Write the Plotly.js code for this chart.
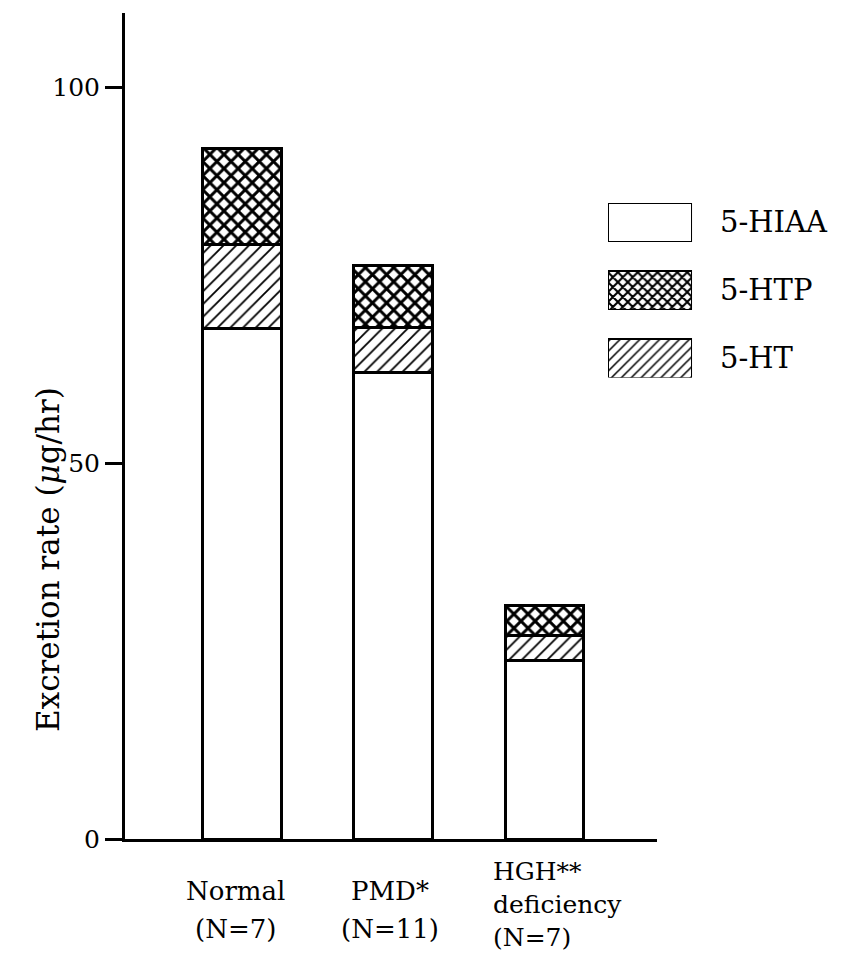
<!DOCTYPE html>
<html>
<head>
<meta charset="utf-8">
<script src="https://cdn.plot.ly/plotly-3.0.1.min.js"></script>
<style>
  html, body { margin: 0; padding: 0; background: #ffffff; }
  #chart { width: 841px; height: 968px; }
</style>
</head>
<body>
<div id="chart"></div>
<script>
// ---- data ----
const groups = ["Normal", "PMD*", "HGH** deficiency"];
const groupLabelLines = [["Normal", "(N=7)"], ["PMD*", "(N=11)"], ["HGH**", "deficiency", "(N=7)"]];
const seriesNames = ["5-HIAA", "5-HT", "5-HTP"];      // stacking order, bottom to top
const hiaa = [67.9, 62.0, 23.8];
const ht   = [11.1, 6.0, 3.3];
const htp  = [12.8, 8.3, 4.0];
const legendOrder = ["5-HIAA", "5-HTP", "5-HT"];      // legend order, top to bottom
const yTicks = [0, 50, 100];

// ---- styles ----
const FONT = "DejaVu Serif";
const patterns = {
  "5-HIAA": {shape: "", size: 9, solidity: 0.2},
  "5-HT":   {shape: "/", size: 9, solidity: 0.2},
  "5-HTP":  {shape: "x", size: 10, solidity: 0.5}
};
const legendPatterns = {
  "5-HIAA": {shape: "", size: 7, solidity: 0.2},
  "5-HT":   {shape: "/", size: 7, solidity: 0.22},
  "5-HTP":  {shape: "x", size: 7, solidity: 0.5}
};
const values = {"5-HIAA": hiaa, "5-HT": ht, "5-HTP": htp};
const xIdx = groups.map((g, i) => i);

const traces = seriesNames.map(name => ({
  type: "bar",
  x: xIdx,
  y: values[name],
  name: name,
  width: 0.517,
  showlegend: false,
  marker: {
    color: "white",
    line: {color: "black", width: 3},
    pattern: Object.assign({fgcolor: "black", bgcolor: "white", fillmode: "replace"}, patterns[name])
  },
  xaxis: "x", yaxis: "y",
  hoverinfo: "skip"
}));

// legend swatches drawn on an auxiliary axis pair
legendOrder.forEach((name, i) => {
  traces.push({
    type: "bar",
    orientation: "h",
    x: [1],
    y: [i],
    base: 0,
    width: 0.566,
    showlegend: false,
    marker: {
      color: "white",
      line: {color: "black", width: 1.6},
      pattern: Object.assign({fgcolor: "black", bgcolor: "white", fillmode: "replace"}, legendPatterns[name])
    },
    xaxis: "x2", yaxis: "y2",
    hoverinfo: "skip"
  });
});

// category labels under the axis
const annotations = [];
const lineLayout = [
  {xanchor: "center", xshift: -7, first: -52, step: 38, size: 26},
  {xanchor: "center", xshift: -3, first: -52, step: 38, size: 26},
  {xanchor: "left",   xshift: -52, first: -32, step: 33, size: 25}
];
groupLabelLines.forEach((lines, i) => {
  lines.forEach((txt, j) => {
    annotations.push({
      xref: "x", yref: "paper", x: xIdx[i], y: 0,
      xanchor: lineLayout[i].xanchor, yanchor: "middle",
      xshift: lineLayout[i].xshift,
      yshift: lineLayout[i].first - j * lineLayout[i].step,
      borderpad: 0,
      text: txt, showarrow: false,
      font: {family: FONT, size: lineLayout[i].size, color: "black"}
    });
  });
});
// y-axis title
annotations.push({
  xref: "paper", yref: "paper", x: -0.1139, y: 0.3378,
  xanchor: "center", yanchor: "middle", textangle: -90,
  text: "Excretion rate (<i>μ</i>g/hr)", showarrow: false,
  font: {family: FONT, size: 31, color: "black"}
});

const layout = {
  width: 841, height: 968,
  paper_bgcolor: "white", plot_bgcolor: "rgba(0,0,0,0)",
  margin: {l: 125, r: 40, t: 13, b: 129},
  barmode: "stack",
  showlegend: false,
  font: {family: FONT, color: "black"},
  xaxis: {
    domain: [0, 0.787],
    range: [-0.7748, 2.748],
    showline: true, linecolor: "black", linewidth: 3,
    showticklabels: false, ticks: "", showgrid: false, zeroline: false,
    fixedrange: true
  },
  yaxis: {
    range: [0, 109.84],
    tickvals: yTicks,
    ticktext: yTicks.map(String),
    ticks: "outside", ticklen: 17, tickwidth: 3, tickcolor: "black",
    showline: true, linecolor: "black", linewidth: 3,
    showgrid: false, zeroline: false,
    tickfont: {family: FONT, size: 25, color: "black"},
    ticklabelstandoff: 0,
    fixedrange: true
  },
  xaxis2: {
    domain: [0.7145, 0.8388], anchor: "y2", range: [0, 1],
    visible: false, fixedrange: true
  },
  yaxis2: {
    domain: [0.5587, 0.770], anchor: "x2", side: "right",
    range: [2.283, -0.283],
    tickvals: legendOrder.map((n, i) => i), ticktext: legendOrder,
    ticks: "", showline: false, showgrid: false, zeroline: false,
    tickfont: {family: FONT, size: 29, color: "black"},
    ticklabelstandoff: 27,
    fixedrange: true
  },
  annotations: annotations
};

Plotly.newPlot("chart", traces, layout, {staticPlot: true, displayModeBar: false});
</script>
</body>
</html>
